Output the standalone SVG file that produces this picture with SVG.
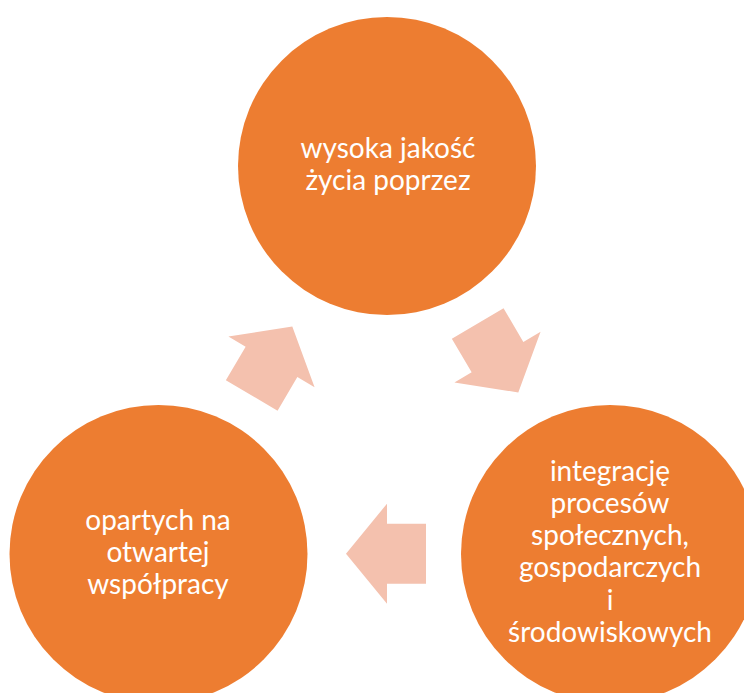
<svg xmlns="http://www.w3.org/2000/svg" width="744" height="693" viewBox="0 0 744 693">
<defs>
<style>
.node{fill:#ED7D31;}
.lbl{fill:#FFFFFF;font-family:Lato,"Open Sans","Liberation Sans",sans-serif;font-size:28px;text-anchor:middle;}
.arr{fill:#F4C1AE;}
</style>
<path id="arrowShape" d="M-40,-30 L-1,-30 L-1,-50 L40,0 L-1,50 L-1,30 L-40,30 Z"/>
</defs>
<rect width="744" height="693" fill="#FFFFFF"/>
<g id="connectors">
<use href="#arrowShape" class="arr" transform="translate(272,361) rotate(-59.5)"/>
<use href="#arrowShape" class="arr" transform="translate(498,358) rotate(59.5)"/>
<use href="#arrowShape" class="arr" transform="translate(386,553.7) rotate(180)"/>
</g>
<g id="node-top">
<circle class="node" cx="387" cy="166" r="149"/>
<text class="lbl" x="388" y="158">wysoka jakość</text>
<text class="lbl" x="388" y="190">życia poprzez</text>
</g>
<g id="node-right">
<circle class="node" cx="610" cy="554" r="149"/>
<text class="lbl" x="610" y="481">integrację</text>
<text class="lbl" x="610" y="513">procesów</text>
<text class="lbl" x="610" y="545">społecznych,</text>
<text class="lbl" x="610" y="577">gospodarczych</text>
<text class="lbl" x="610" y="610">i</text>
<text class="lbl" x="610" y="642">środowiskowych</text>
</g>
<g id="node-left">
<circle class="node" cx="158.5" cy="554" r="149"/>
<text class="lbl" x="158" y="530">opartych na</text>
<text class="lbl" x="158" y="562">otwartej</text>
<text class="lbl" x="158" y="594">współpracy</text>
</g>
</svg>
